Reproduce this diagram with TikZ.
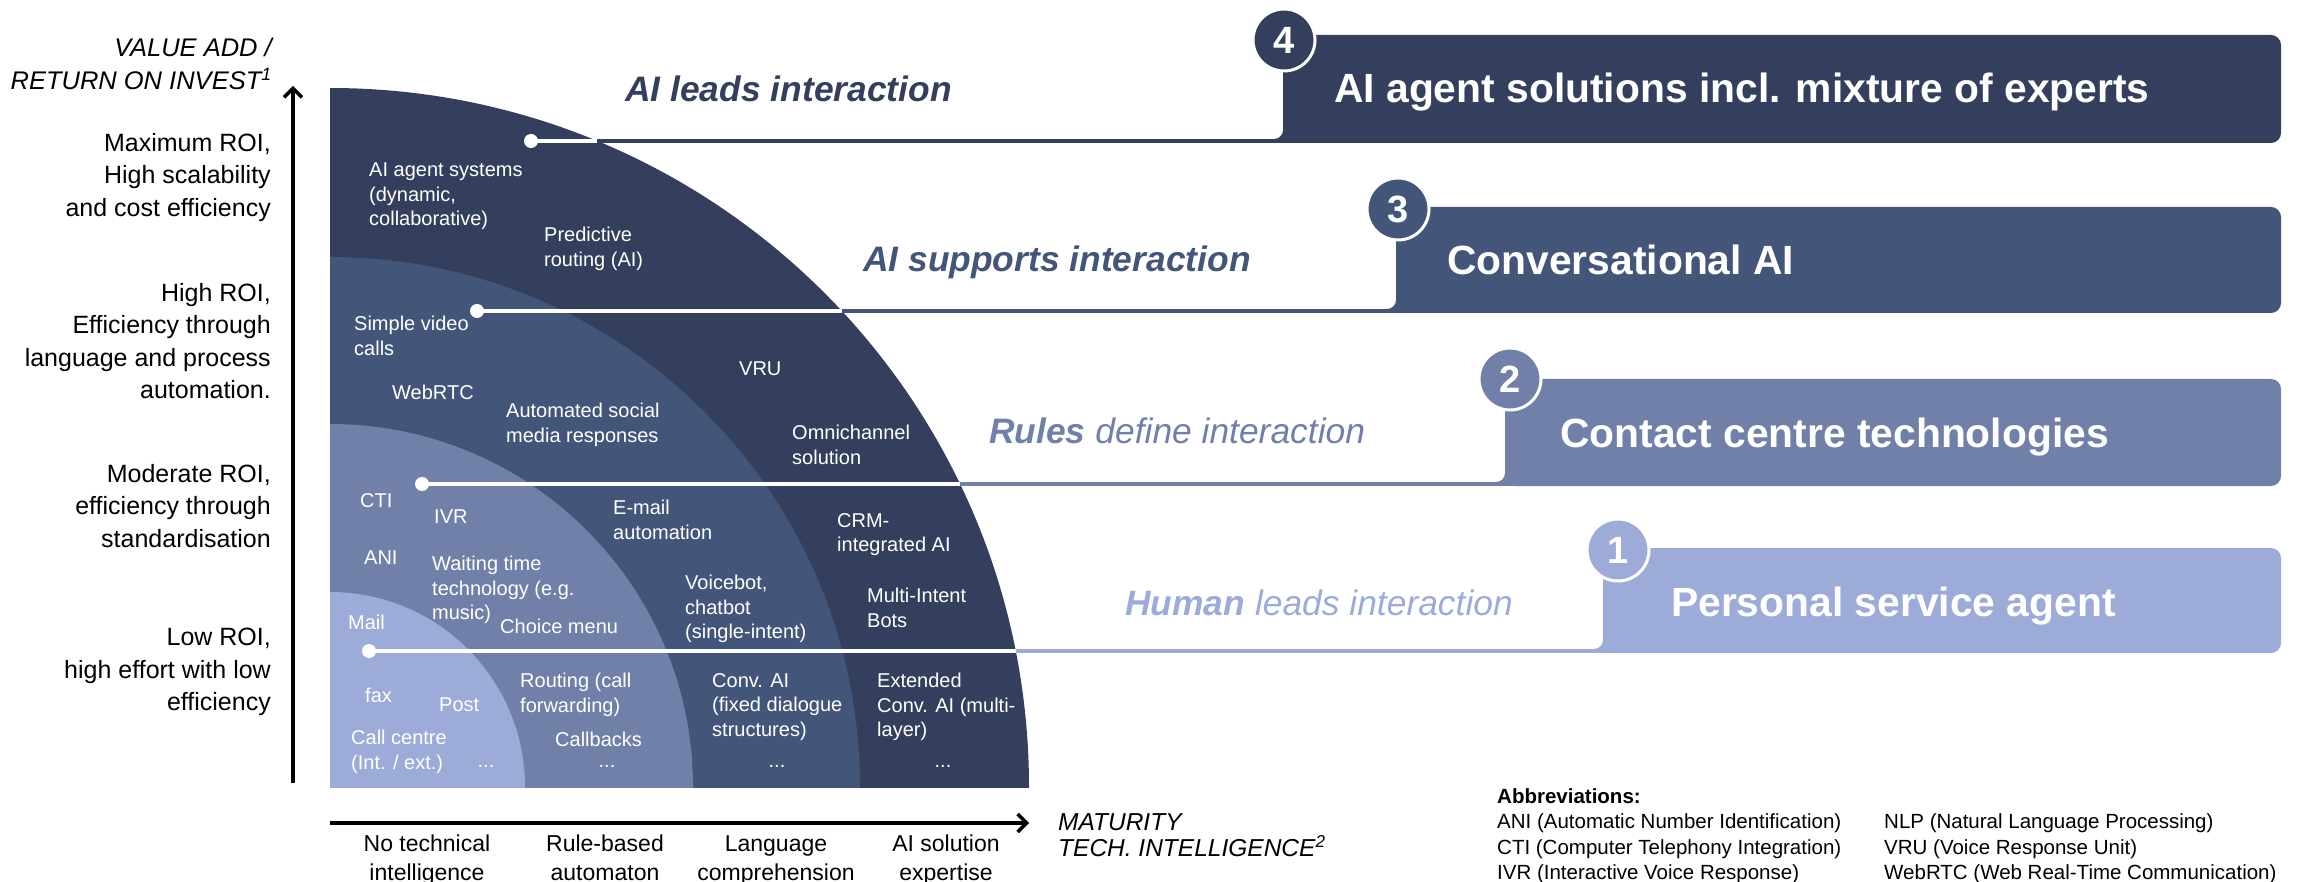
\documentclass[tikz,border=0pt]{standalone}
\usepackage{fontspec}
\setmainfont{Liberation Sans}
\usetikzlibrary{arrows.meta}
\definecolor{cA}{HTML}{333F5C}
\definecolor{cB}{HTML}{44557A}
\definecolor{cC}{HTML}{7080A8}
\definecolor{cD}{HTML}{9DABD9}
\newcommand\fsz[2]{\fontsize{#1}{#2}\selectfont}
% band shape: color, left x, top y, bottom y
\newcommand\bandshape[4]{%
  \fill[#1, rounded corners=10pt] (#2,#3) rectangle (2281,#4);
  \fill[#1] (#2,#3) rectangle ({#2+40},#4);
  \fill[#1] (#2,{#4-4}) -- ({#2-9},{#4-4}) .. controls ({#2-4},{#4-4}) and (#2,{#4-8}) .. (#2,{#4-13}) -- cycle;
}
\begin{document}
\begin{tikzpicture}[x=1pt,y=-1pt,
  ql/.style={text=white, font=\fsz{20}{24.5}, align=left, anchor=north west, inner sep=0pt},
  qdots/.style={text=white, font=\fsz{20}{24}, anchor=center, inner sep=0pt},
  yl/.style={font=\fsz{25}{32.5}, align=right, anchor=north east, inner sep=0pt},
  xlab/.style={font=\fsz{23}{29}, align=center, anchor=north, inner sep=0pt},
  btxt/.style={text=white, font=\fsz{40.8}{48}\bfseries, anchor=base west, inner sep=0pt},
  ttl/.style={font=\fsz{35.4}{42}\itshape, anchor=base west, inner sep=0pt},
  numc/.style={circle, draw=white, line width=3pt, minimum size=62pt, inner sep=0pt, text=white, font=\fsz{38}{40}\bfseries},
  dotn/.style={circle, fill=white, minimum size=14pt, inner sep=0pt},
  wline/.style={white, line width=4pt},
  axisline/.style={line width=3.5pt, -{Straight Barb[length=9pt,width=18pt]}},
  abbr/.style={font=\fsz{20.5}{25.5}, align=left, anchor=north west, inner sep=0pt},
]
\useasboundingbox (0,0) rectangle (2308,882);

% ---------- quadrant ----------
\begin{scope}
  \clip (330,787) rectangle (1040,80);
  \fill[cA] (330,787) circle[radius=699];
  \fill[cB] (330,787) circle[radius=530];
  \fill[cC] (330,787) circle[radius=363];
  \fill[cD] (330,787) circle[radius=195];
\end{scope}

% ---------- bands ----------
\bandshape{cA}{1283}{35}{143}
\bandshape{cB}{1396}{207}{313}
\bandshape{cC}{1505}{379}{486}
\bandshape{cD}{1603}{548}{653}

\node[numc, fill=cA] (n4) at (1284,40) {4};
\node[numc, fill=cB] (n3) at (1398,209) {3};
\node[numc, fill=cC] (n2) at (1510,379) {2};
\node[numc, fill=cD] (n1) at (1618,550) {1};

\node[btxt] (t4) at (1334,103) {AI agent solutions incl. mixture of experts};
\node[btxt] (t3) at (1447,275) {Conversational AI};
\node[btxt] (t2) at (1560,447) {Contact centre technologies};
\node[btxt] (t1) at (1671,616) {Personal service agent};

% ---------- connectors ----------
\coordinate (a4) at (597,141);  \coordinate (b4) at (1284,141);
\coordinate (a3) at (842,311);  \coordinate (b3) at (1397,311);
\coordinate (a2) at (960,484);  \coordinate (b2) at (1506,484);
\coordinate (a1) at (1016,651); \coordinate (b1) at (1604,651);
\node[dotn] (d4) at (531,141) {};
\node[dotn] (d3) at (477,311) {};
\node[dotn] (d2) at (422,484) {};
\node[dotn] (d1) at (369,651) {};
\draw[wline] (d4.center) -- (a4);
\draw[wline] (d3.center) -- (a3);
\draw[wline] (d2.center) -- (a2);
\draw[wline] (d1.center) -- (a1);
\draw[cA, line width=4pt] (a4) -- (b4);
\draw[cB, line width=4pt] (a3) -- (b3);
\draw[cC, line width=4pt] (a2) -- (b2);
\draw[cD, line width=4pt] (a1) -- (b1);

% ---------- stage titles ----------
\node[ttl, text=cA] (s4) at (625,102) {\bfseries AI leads interaction};
\node[ttl, text=cB] (s3) at (863,272) {\bfseries AI supports interaction};
\node[ttl, text=cC] (s2) at (989,443) {\textbf{Rules} define interaction};
\node[ttl, text=cD] (s1) at (1125,615) {\textbf{Human} leads interaction};

% ---------- quadrant labels ----------
% outer layer
\node[ql] (q41) at (369,163) {AI agent systems\\(dynamic,\\collaborative)};
\node[ql] (q42) at (544,227) {Predictive\\routing (AI)};
\node[ql] (q43) at (739,362) {VRU};
\node[ql] (q44) at (792,425) {Omnichannel\\solution};
\node[ql] (q45) at (837,513) {CRM-\\integrated AI};
\node[ql] (q46) at (867,588) {Multi-Intent\\Bots};
\node[ql] (q47) at (877,673) {Extended\\Conv. AI (multi-\\layer)};
\node[qdots] (q48) at (943,766) {...};
% third layer
\node[ql] (q31) at (354,316) {Simple video\\calls};
\node[ql] (q32) at (392,385) {WebRTC};
\node[ql] (q33) at (506,403) {Automated social\\media responses};
\node[ql] (q34) at (613,500) {E-mail\\automation};
\node[ql] (q35) at (685,575) {Voicebot,\\chatbot\\(single-intent)};
\node[ql] (q36) at (712,673) {Conv. AI\\(fixed dialogue\\structures)};
\node[qdots] (q37) at (777,766) {...};
% second layer
\node[ql] (q21) at (360,493) {CTI};
\node[ql] (q22) at (434,510) {IVR};
\node[ql] (q23) at (364,551) {ANI};
\node[ql] (q24) at (432,556) {Waiting time\\technology (e.g.\\music)};
\node[ql] (q25) at (500,619) {Choice menu};
\node[ql] (q26) at (520,673) {Routing (call\\forwarding)};
\node[ql] (q27) at (555,732) {Callbacks};
\node[qdots] (q28) at (607,766) {...};
% inner layer
\node[ql] (q11) at (348,615) {Mail};
\node[ql] (q12) at (365,688) {fax};
\node[ql] (q13) at (439,698) {Post};
\node[ql] (q14) at (351,730) {Call centre\\(Int. / ext.)};
\node[qdots] (q15) at (486,766) {...};

% ---------- axes ----------
\coordinate (yb) at (293,783);
\coordinate (yt) at (293,86);
\coordinate (xb) at (330,823);
\coordinate (xt) at (1029,823);
\draw[axisline] (yb) -- (yt);
\draw[axisline] (xb) -- (xt);

\node[yl, font=\fsz{25.5}{32.5}\itshape] (ytitle) at (272,38) {VALUE ADD /\\RETURN ON INVEST\textsuperscript{1}};
\node[yl] (y4) at (271,133) {Maximum ROI,\\High scalability\\and cost efficiency};
\node[yl] (y3) at (271,283) {High ROI,\\Efficiency through\\language and process\\automation.};
\node[yl] (y2) at (271,464) {Moderate ROI,\\efficiency through\\standardisation};
\node[yl] (y1) at (271,628) {Low ROI,\\high effort with low\\efficiency};

\node[xlab] (x1) at (427,835) {No technical\\intelligence};
\node[xlab] (x2) at (605,835) {Rule-based\\automaton};
\node[xlab] (x3) at (776,835) {Language\\comprehension};
\node[xlab] (x4) at (946,835) {AI solution\\expertise};
\node[font=\fsz{24.5}{26}\itshape, align=left, anchor=north west, inner sep=0pt] (xtitle) at (1058,813) {MATURITY\\TECH. INTELLIGENCE\textsuperscript{2}};

% ---------- abbreviations ----------
\node[abbr] (ab1) at (1497,788)
  {\textbf{Abbreviations:}\\ANI (Automatic Number Identification)\\CTI (Computer Telephony Integration)\\IVR (Interactive Voice Response)};
\node[abbr] (ab2) at (1884,813.5)
  {NLP (Natural Language Processing)\\VRU (Voice Response Unit)\\WebRTC (Web Real-Time Communication)};
\end{tikzpicture}
\end{document}
